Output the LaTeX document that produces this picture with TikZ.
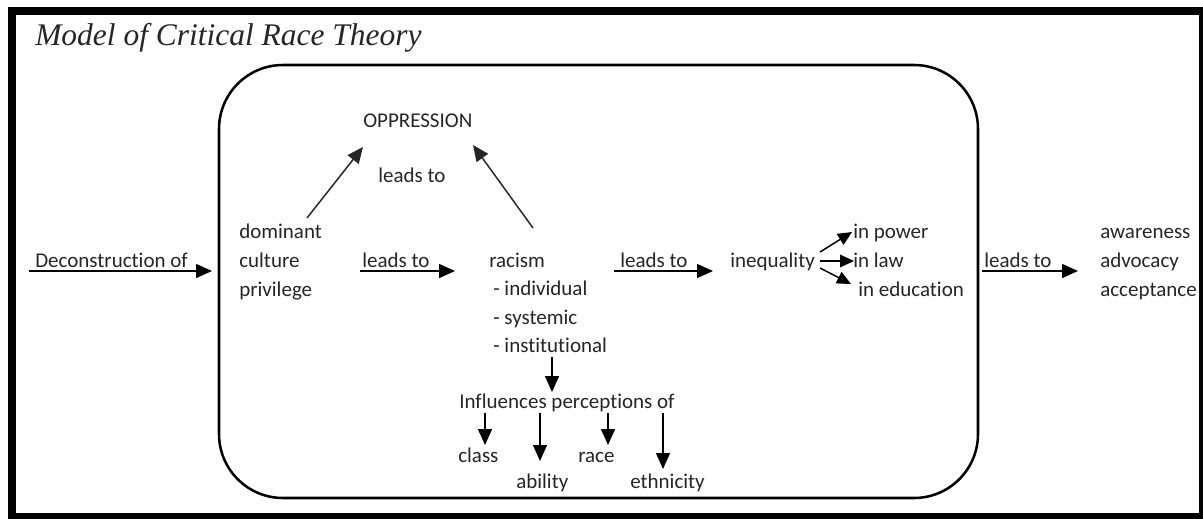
\documentclass[tikz,border=0pt]{standalone}
\usepackage{fontspec}
\setmainfont[RawFeature={-liga;-clig;-dlig}]{Carlito}
\newfontfamily\titlefont{Liberation Serif}
\usetikzlibrary{arrows.meta}
\begin{document}
\begin{tikzpicture}[x=0.75pt,y=-0.75pt,
  txt/.style={anchor=base west,inner sep=0pt,text=black!85,font=\fontsize{15.75}{18}\selectfont},
  conn/.style={line width=1.1pt,-{Triangle[length=12pt,width=10.5pt]}},
  small/.style={line width=1.1pt,-{Triangle[length=10.5pt,width=9.5pt]}}]
\useasboundingbox (0,0) rectangle (1203,518);
\fill[white] (0,0) rectangle (1203,518);
\draw[line width=6pt] (12,11) rectangle (1203,517);
\node[anchor=base west,inner sep=0pt,text=black!85,font=\titlefont\itshape\fontsize{23.6}{28}\selectfont] (title) at (35,45) {Model of Critical Race Theory};
\draw[line width=1.9pt,rounded corners=48pt] (219,65) rectangle (978,498);

% texts
\node[txt] (decon) at (35,267) {Deconstruction of};
\node[txt] (dom) at (239,238) {dominant};
\node[txt] (cul) at (239,267) {culture};
\node[txt] (priv) at (239,296) {privilege};
\node[txt] (lt1) at (362,267) {leads to};
\node[txt] (racism) at (489,267) {racism};
\node[txt] (indiv) at (493,295.5) {- individual};
\node[txt] (syst) at (493,324) {- systemic};
\node[txt] (inst) at (493,352.5) {- institutional};
\node[txt] (lt2) at (620,267) {leads to};
\node[txt] (ineq) at (730,267) {inequality};
\node[txt] (power) at (853,238) {in power};
\node[txt] (law) at (853,267) {in law};
\node[txt] (edu) at (858,296) {in education};
\node[txt] (lt3) at (984,267) {leads to};
\node[txt] (aware) at (1100,238) {awareness};
\node[txt] (advo) at (1100,267) {advocacy};
\node[txt] (accept) at (1100,296) {acceptance};
\node[txt] (opp) at (363,127) {OPPRESSION};
\node[txt] (lt0) at (378,182) {leads to};
\node[txt] (infl) at (459,408) {Influences perceptions of};
\node[txt] (class) at (458,462) {class};
\node[txt] (abil) at (516,488) {ability};
\node[txt] (race) at (578,462) {race};
\node[txt] (eth) at (630,488) {ethnicity};

% connector ends
\coordinate (a1s) at (29,271);   \coordinate (a1e) at (212,271);
\coordinate (a2s) at (360,271);  \coordinate (a2e) at (455,271);
\coordinate (a3s) at (614,271);  \coordinate (a3e) at (713,271);
\coordinate (a4s) at (982,271);  \coordinate (a4e) at (1078,271);
\coordinate (d1s) at (307,218);  \coordinate (d1e) at (363,147);
\coordinate (d2s) at (533,228);  \coordinate (d2e) at (473,145);
\coordinate (v0s) at (552,357);  \coordinate (v0e) at (552,392);
\coordinate (v1s) at (485,413);  \coordinate (v1e) at (485,445);
\coordinate (v2s) at (540,413);  \coordinate (v2e) at (540,461);
\coordinate (v3s) at (608,413);  \coordinate (v3e) at (608,445);
\coordinate (v4s) at (663,413);  \coordinate (v4e) at (663,469);
\coordinate (i1s) at (820,252);  \coordinate (i1e) at (852,232);
\coordinate (i2s) at (820,261);  \coordinate (i2e) at (854,261);
\coordinate (i3s) at (820,268);  \coordinate (i3e) at (851,284);

\draw[conn] (a1s) -- (a1e);
\draw[conn] (a2s) -- (a2e);
\draw[conn] (a3s) -- (a3e);
\draw[conn] (a4s) -- (a4e);
\draw[conn,black!85] (d1s) -- (d1e);
\draw[conn,black!85] (d2s) -- (d2e);
\draw[conn] (v0s) -- (v0e);
\draw[conn] (v1s) -- (v1e);
\draw[conn] (v2s) -- (v2e);
\draw[conn] (v3s) -- (v3e);
\draw[conn] (v4s) -- (v4e);
\draw[small] (i1s) -- (i1e);
\draw[small] (i2s) -- (i2e);
\draw[small] (i3s) -- (i3e);
\end{tikzpicture}
\end{document}
